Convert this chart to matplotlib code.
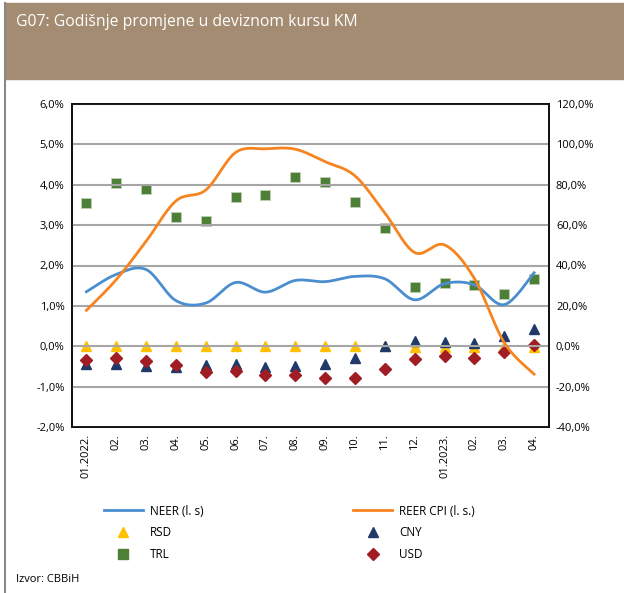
import numpy as np
import matplotlib.pyplot as plt
from matplotlib.patches import Rectangle
from matplotlib.lines import Line2D

plt.rcParams['font.family'] = ['Open Sans', 'DejaVu Sans']

months = ['01.2022.', '02.', '03.', '04.', '05.', '06.', '07.', '08.', '09.', '10.',
          '11.', '12.', '01.2023.', '02.', '03.', '04.']

# left scale (%)
neer = [1.35, 1.78, 1.90, 1.13, 1.07, 1.58, 1.34, 1.63, 1.60, 1.73,
        1.67, 1.15, 1.55, 1.52, 1.03, 1.82]
reer_cpi = [0.89, 1.65, 2.60, 3.60, 3.87, 4.80, 4.89, 4.88, 4.57, 4.22,
            3.30, 2.32, 2.51, 1.68, 0.09, -0.69]

# right scale (%)
rsd = [0.3, 0.3, 0.3, 0.2, 0.2, 0.0, 0.0, 0.0, 0.0, 0.0,
       0.0, -0.3, -0.4, -0.4, 0.2, -0.3]
cny = [-8.8, -8.8, -10.0, -10.3, -9.3, -8.9, -10.5, -10.0, -8.7, -5.7,
       -0.1, 2.4, 1.9, 1.7, 5.3, 8.3]
trl = [70.9, 80.8, 78.0, 63.8, 62.0, 73.9, 74.8, 83.8, 81.4, 71.4,
       58.7, 29.3, 31.3, 30.4, 26.0, 33.4]
usd = [-6.8, -6.0, -7.5, -9.2, -13.0, -12.1, -14.1, -14.1, -15.8, -15.8,
       -11.1, -6.4, -5.0, -5.9, -2.9, 0.7]


def smooth(x, y, n=20):
    # Excel-like smoothed line (Catmull-Rom as cubic Bezier)
    x = np.asarray(x, float)
    y = np.asarray(y, float)
    px = np.concatenate([[x[0]], x, [x[-1]]])
    py = np.concatenate([[y[0]], y, [y[-1]]])
    t = np.linspace(0, 1, n)[:, None]
    xs, ys = [], []
    for i in range(1, len(px) - 2):
        p0 = np.array([px[i], py[i]])
        p3 = np.array([px[i + 1], py[i + 1]])
        c1 = p0 + (p3 - np.array([px[i - 1], py[i - 1]])) / 6
        c2 = p3 - (np.array([px[i + 2], py[i + 2]]) - p0) / 6
        b = (1 - t) ** 3 * p0 + 3 * (1 - t) ** 2 * t * c1 + 3 * (1 - t) * t ** 2 * c2 + t ** 3 * p3
        xs.extend(b[:, 0])
        ys.extend(b[:, 1])
    return xs, ys


c_neer = '#4A8ECF'
c_reer = '#F7841F'
c_rsd = '#FFC000'
c_cny = '#1F3A68'
c_trl = '#4E7F36'
c_usd = '#A01D24'

fig = plt.figure(figsize=(6.24, 5.93), dpi=100)
fig.patches.append(Rectangle((5 / 624, 1 - 79 / 593), 1, 76 / 593, transform=fig.transFigure,
                             color='#A38C71', zorder=0))
fig.add_artist(Line2D([5 / 624, 5 / 624], [0, 1 - 3 / 593], transform=fig.transFigure,
                      color='#888888', lw=1.5))
fig.text(16 / 624, 1 - 22 / 593, 'G07: Godišnje promjene u deviznom kursu KM', color='white',
         fontsize=11.3, va='center', ha='left')

ax = fig.add_axes([71.5 / 624, 1 - 427 / 593, 477.5 / 624, 323 / 593])
ax2 = ax.twinx()
ax.set_zorder(ax2.get_zorder() + 1)
ax.patch.set_visible(False)

x = np.arange(len(months))

ms = 7.5
ax2.plot(x, rsd, linestyle='none', marker='^', color=c_rsd, markersize=ms)
ax2.plot(x, cny, linestyle='none', marker='^', color=c_cny, markersize=ms)
ax2.plot(x, trl, linestyle='none', marker='s', color=c_trl, markersize=7, markeredgecolor='#BFD0B5',
         markeredgewidth=0.6)
ax2.plot(x, usd, linestyle='none', marker='D', color=c_usd, markersize=6)

sx, sy = smooth(x, neer)
ax.plot(sx, sy, color=c_neer, lw=2)
sx, sy = smooth(x, reer_cpi)
ax.plot(sx, sy, color=c_reer, lw=2)

ax.set_xlim(-0.5, len(months) - 0.5)
ax.set_ylim(-2, 6)
ax2.set_ylim(-40, 120)
ax.set_yticks(np.arange(-2, 6.01, 1))
ax2.set_yticks(np.arange(-40, 120.1, 20))
ax.set_yticklabels([f'{v:.1f}%'.replace('.', ',') for v in np.arange(-2, 6.01, 1)], fontsize=8)
ax2.set_yticklabels([f'{v:.1f}%'.replace('.', ',') for v in np.arange(-40, 120.1, 20)], fontsize=8)
ax.set_xticks(x)
ax.set_xticklabels(months, rotation=90, fontsize=8)
ax.grid(axis='y', color='#A6A6A6', lw=1.5)
ax.set_axisbelow(True)
for a in (ax, ax2):
    a.tick_params(length=0, pad=5)
    for s in a.spines.values():
        s.set_linewidth(1.3)
        s.set_color('#111111')

# legend, rows: NEER/REER, RSD/CNY, TRL/USD (matplotlib fills columns first)
items = [
    (Line2D([], [], color=c_neer, lw=2), 'NEER (l. s)'),
    (Line2D([], [], ls='none', marker='^', color=c_rsd, markersize=7), 'RSD'),
    (Line2D([], [], ls='none', marker='s', color=c_trl, markersize=6.5), 'TRL'),
    (Line2D([], [], color=c_reer, lw=2), 'REER CPI (l. s.)'),
    (Line2D([], [], ls='none', marker='^', color=c_cny, markersize=7), 'CNY'),
    (Line2D([], [], ls='none', marker='D', color=c_usd, markersize=6), 'USD'),
]
fig.legend([h for h, _ in items], [l for _, l in items], ncol=2, loc='upper left',
           bbox_to_anchor=(93 / 624, 1 - 494 / 593), frameon=False, fontsize=8.5,
           handlelength=3.3, columnspacing=12.7, labelspacing=0.75, handletextpad=0.6)

fig.text(16 / 624, 1 - 580 / 593, 'Izvor: CBBiH', fontsize=8, va='center', ha='left')

fig.savefig('out.png', dpi=100)
